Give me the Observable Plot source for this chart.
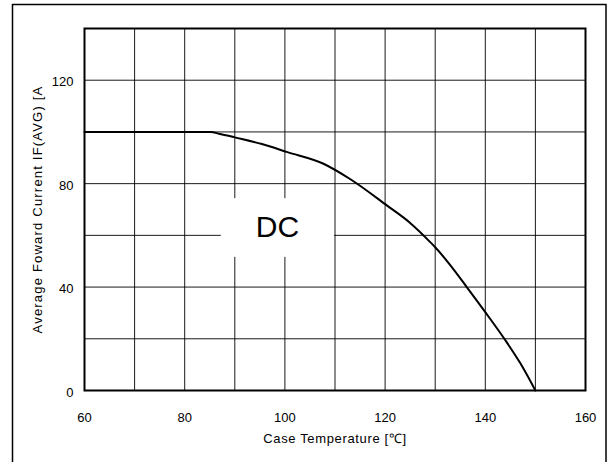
<!DOCTYPE html>
<html>
<head>
<meta charset="utf-8">
<script src="https://cdn.jsdelivr.net/npm/d3@7"></script>
<script src="https://cdn.jsdelivr.net/npm/@observablehq/plot@0.6"></script>
<style>
  html, body { margin: 0; padding: 0; background: #fff; }
  #chart { width: 611px; height: 462px; overflow: hidden; }
</style>
</head>
<body>
<div id="chart"></div>
<script>
// Derating curve: case temperature (°C) vs average forward current IF(AVG) (A)
const caseTemp = [60, 85.2, 87, 88.5, 90, 95.4, 100.5, 107.7, 113, 120.4, 125, 129, 130, 133, 136.3, 140, 143.8, 147, 150];
const current  = [100, 100, 99.2, 98.6, 97.9, 95.3, 92.2, 87.7, 81.8, 71.5, 64.8, 57.4, 55.4, 48.5, 40, 30.3, 20, 10.5, 0];

const xTickLabels = [60, 80, 100, 120, 140, 160];
const yTickLabels = [0, 40, 80, 120];
const xGrid = [70, 80, 90, 100, 110, 120, 130, 140, 150];
const yGrid = [20, 40, 60, 80, 100, 120];

const annotationText = ["DC"];
const annotationX = [98.5];
const annotationY = [63];
const annotationBox = [{x1: 87.3, x2: 109.9, y1: 51.5, y2: 74.2}];

const xLabel = "Case Temperature [℃]";
const yLabel = "Average Foward Current IF(AVG) [A";

const curve = caseTemp.map((t, i) => ({t, a: current[i]}));

const fontFamily = "'Liberation Sans', Arial, sans-serif";

const chart = Plot.plot({
  width: 611,
  height: 462,
  marginLeft: 84,
  marginRight: 26,
  marginTop: 28,
  marginBottom: 72,
  style: {fontFamily, fontSize: "13px", color: "#000", background: "#fff", overflow: "visible"},
  x: {domain: [60, 160]},
  y: {domain: [0, 140]},
  marks: [
    Plot.gridX(xGrid, {stroke: "#000", strokeOpacity: 0.9, strokeWidth: 1}),
    Plot.gridY(yGrid, {stroke: "#000", strokeOpacity: 0.9, strokeWidth: 1}),
    Plot.rect(annotationBox, {x1: "x1", x2: "x2", y1: "y1", y2: "y2", fill: "#fff"}),
    Plot.text(annotationText, {x: (d, i) => annotationX[i], y: (d, i) => annotationY[i], text: d => d, fontSize: 30, fill: "#000"}),
    Plot.line(curve, {x: "t", y: "a", stroke: "#000", strokeWidth: 2, curve: "monotone-x"}),
    Plot.frame({stroke: "#000", strokeWidth: 2}),
    Plot.axisX(xTickLabels, {tickSize: 0, tickPadding: 22, label: null, fontSize: 13}),
    Plot.axisY(yTickLabels, {tickSize: 0, tickPadding: 11, label: null, fontSize: 13, dy: 2}),
    Plot.text([xLabel], {frameAnchor: "bottom", dy: 52, text: d => d, fontSize: 13, fill: "#000"}),
    Plot.text([yLabel], {frameAnchor: "left", textAnchor: "middle", rotate: -90, dx: -47, text: d => d, fontSize: 13, fill: "#000"})
  ]
});

// Wider letter spacing on the axis titles, as in the reference
const svg = d3.select(chart);
svg.selectAll("text").filter(function() { return this.textContent === yLabel; }).attr("letter-spacing", "1.2px");
svg.selectAll("text").filter(function() { return this.textContent === xLabel; }).attr("letter-spacing", "0.65px");

// Outer border around the whole figure
svg.append("rect")
  .attr("x", 12.5).attr("y", 4.5)
  .attr("width", 593.5).attr("height", 470)
  .attr("fill", "none").attr("stroke", "#000").attr("stroke-width", 1.5);

document.getElementById("chart").appendChild(chart);
</script>
</body>
</html>
